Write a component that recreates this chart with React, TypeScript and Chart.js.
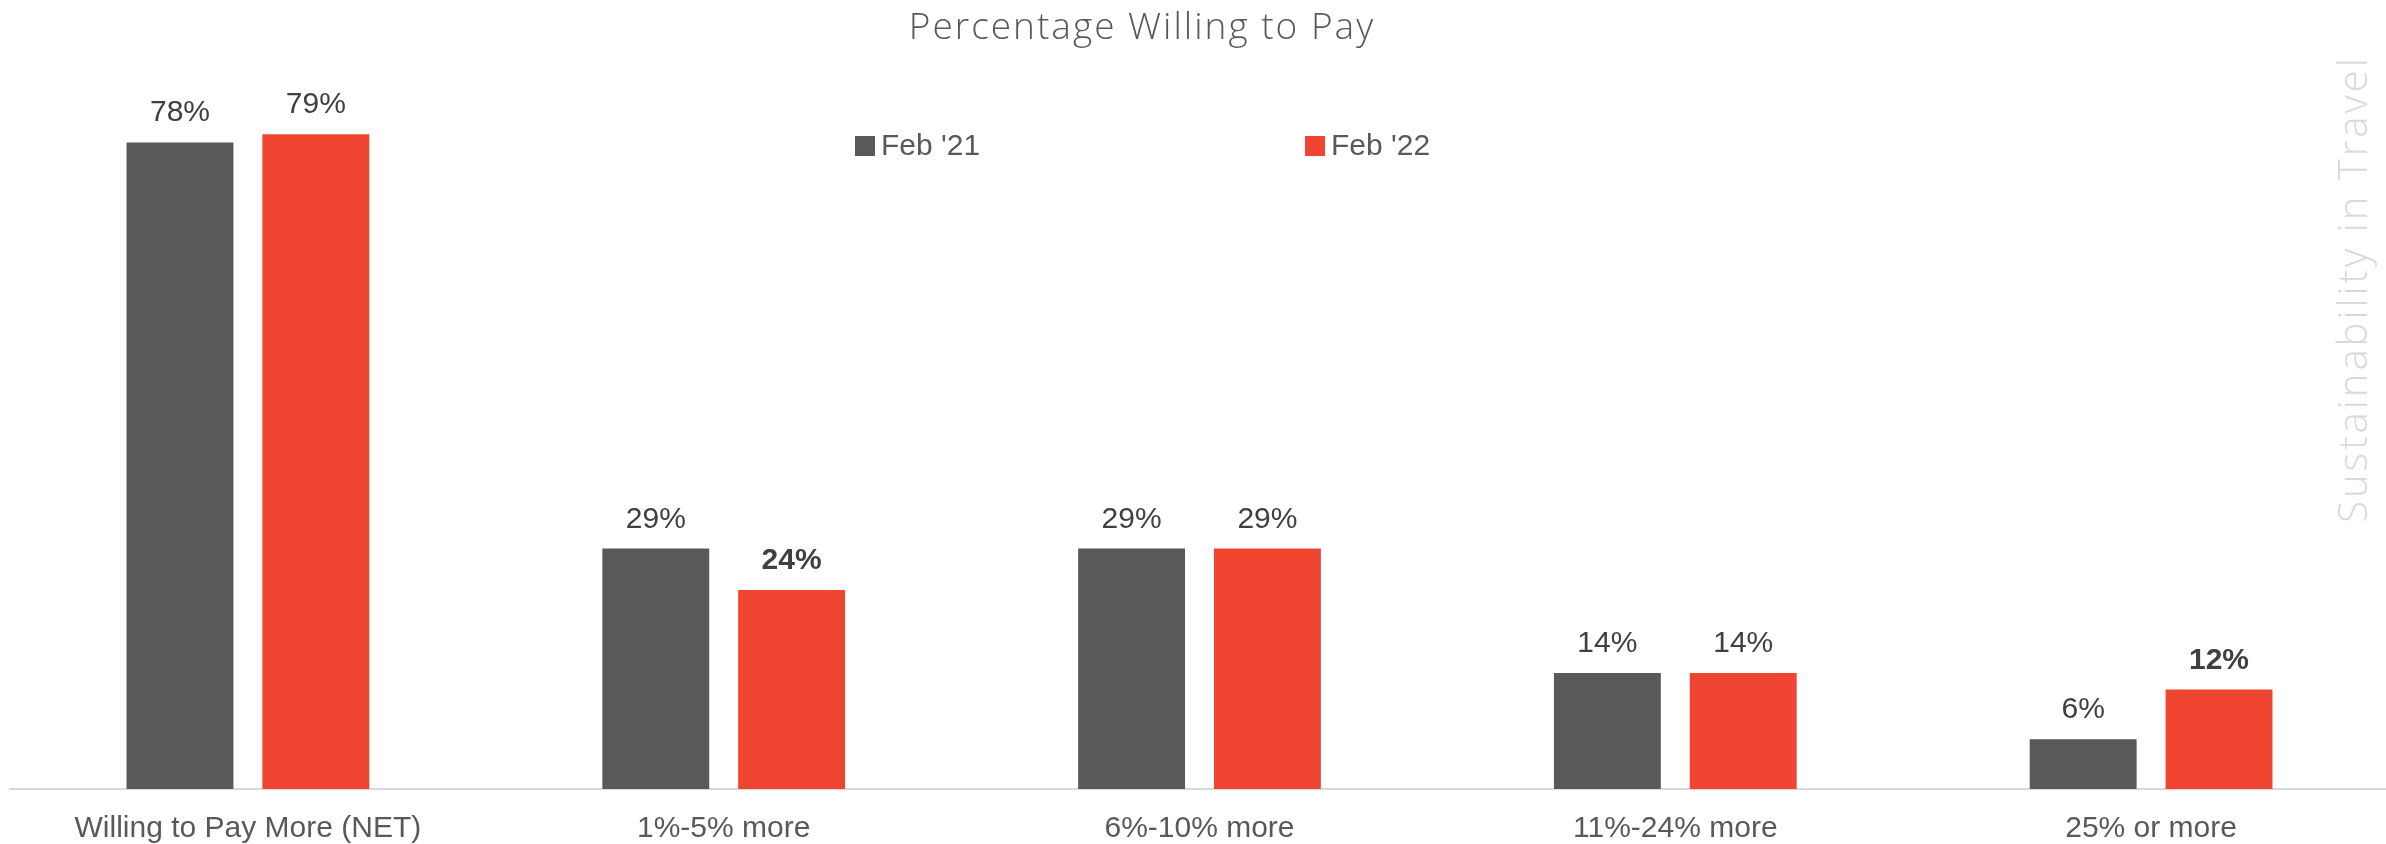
import React, { useEffect, useRef } from "react";
import { Chart, registerables } from "chart.js";

Chart.register(...registerables);

const chartTitle = "Percentage Willing to Pay";
const sideText = "Sustainability in Travel";
const categories = ["Willing to Pay More (NET)", "1%-5% more", "6%-10% more", "11%-24% more", "25% or more"];
const seriesNames = ["Feb '21", "Feb '22"];
const feb21 = [78, 29, 29, 14, 6];
const feb22 = [79, 24, 29, 14, 12];
const feb21Bold = [false, false, false, false, false];
const feb22Bold = [false, true, false, false, true];

const GRAY = "#595959";
const RED = "#EE4430";
const LABEL_FONT = "'Liberation Sans', Arial, sans-serif";
const BRAND_FONT = "'Open Sans', 'Noto Sans', sans-serif";

const decorPlugin = {
  id: "decor",
  afterDatasetsDraw(chart: any) {
    const ctx = chart.ctx;
    ctx.save();
    // data labels
    chart.data.datasets.forEach((ds: any, di: number) => {
      const meta = chart.getDatasetMeta(di);
      meta.data.forEach((bar: any, i: number) => {
        const bold = ds.boldFlags[i];
        ctx.font = `${bold ? "bold " : ""}30px ${LABEL_FONT}`;
        ctx.fillStyle = "#404040";
        ctx.textAlign = "center";
        ctx.textBaseline = "alphabetic";
        ctx.fillText(`${ds.data[i]}%`, bar.x, bar.y - 21);
      });
    });
    // legend
    const legendX = [855, 1305];
    const legendY = 146;
    chart.data.datasets.forEach((ds: any, di: number) => {
      ctx.fillStyle = ds.backgroundColor;
      ctx.fillRect(legendX[di], legendY - 10, 20, 20);
      ctx.font = `30px ${LABEL_FONT}`;
      ctx.fillStyle = GRAY;
      ctx.textAlign = "left";
      ctx.textBaseline = "middle";
      ctx.fillText(ds.label, legendX[di] + 26, legendY + 1);
    });
    // title
    ctx.font = `300 37px ${BRAND_FONT}`;
    ctx.fillStyle = GRAY;
    ctx.textAlign = "center";
    ctx.textBaseline = "middle";
    (ctx as any).letterSpacing = "2px";
    ctx.fillText(chartTitle, 1142, 28);
    // side text
    ctx.translate(2356, 289);
    ctx.rotate(-Math.PI / 2);
    ctx.font = `300 40px ${BRAND_FONT}`;
    ctx.fillStyle = "#D9D9D9";
    (ctx as any).letterSpacing = "3px";
    ctx.fillText(sideText, 0, 0);
    (ctx as any).letterSpacing = "0px";
    ctx.restore();
  },
};

export default function App() {
  const ref = useRef<HTMLCanvasElement | null>(null);
  useEffect(() => {
    if (!ref.current) return;
    const chart = new Chart(ref.current, {
      type: "bar",
      data: {
        labels: categories,
        datasets: [
          { label: seriesNames[0], data: feb21, backgroundColor: GRAY, boldFlags: feb21Bold } as any,
          { label: seriesNames[1], data: feb22, backgroundColor: RED, boldFlags: feb22Bold } as any,
        ],
      },
      options: {
        animation: false,
        responsive: false,
        devicePixelRatio: 1,
        barPercentage: 0.787,
        categoryPercentage: 0.571,
        layout: { padding: { left: 10, right: 3, top: 43, bottom: 0 } },
        plugins: { legend: { display: false }, title: { display: false }, tooltip: { enabled: false } },
        scales: {
          x: {
            grid: { display: false, drawTicks: false },
            border: { display: true, color: "#D9D9D9", width: 2 },
            ticks: { color: GRAY, font: { size: 30, family: LABEL_FONT }, padding: 22, maxRotation: 0, autoSkip: false },
            afterFit: (scale: any) => { scale.height = 55; },
          },
          y: { display: false, min: 0, max: 90 },
        },
      } as any,
      plugins: [decorPlugin],
    });
    return () => chart.destroy();
  }, []);
  return (
    <div style={{ position: "absolute", left: 0, top: 0, width: 2386, height: 844, overflow: "hidden", background: "#fff" }}>
      <canvas ref={ref} width={2392} height={844} style={{ display: "block" }} />
    </div>
  );
}
